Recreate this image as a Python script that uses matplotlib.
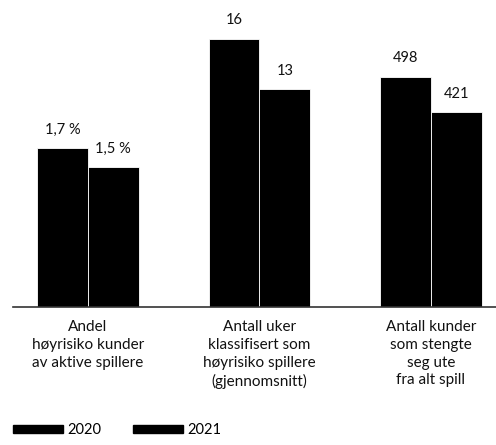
import numpy as np
import matplotlib.pyplot as plt
from matplotlib.patches import Patch

plt.rcParams['font.family'] = ['Lato', 'DejaVu Sans']

categories = ['Andel\nhøyrisiko kunder\nav aktive spillere',
              'Antall uker\nklassifisert som\nhøyrisiko spillere\n(gjennomsnitt)',
              'Antall kunder\nsom stengte\nseg ute\nfra alt spill']
vals_2020 = [1.7, 16, 498]
vals_2021 = [1.5, 13, 421]
labels_2020 = ['1,7 %', '16', '498']
labels_2021 = ['1,5 %', '13', '421']
# each group drawn on its own scale (relative height of the tallest bar)
group_scale = [0.59, 1.0, 0.858]

v20 = np.array(vals_2020, dtype=float)
v21 = np.array(vals_2021, dtype=float)
gmax = np.maximum(v20, v21)
h20 = v20 / gmax * np.array(group_scale)
h21 = v21 / gmax * np.array(group_scale)

fig = plt.figure(figsize=(4.96, 4.45), dpi=100)
ax = fig.add_axes([13/496, 138.5/445, 1 - 13/496, 268/445])

x = np.arange(len(categories))
w = 0.295
b1 = ax.bar(x - w/2, h20, w, color='black', edgecolor='white', linewidth=0.6, label='2020')
b2 = ax.bar(x + w/2, h21, w, color='black', edgecolor='white', linewidth=0.6, label='2021')

for bars, labs in ((b1, labels_2020), (b2, labels_2021)):
    for r, lab in zip(bars, labs):
        ax.annotate(lab, (r.get_x() + r.get_width()/2, r.get_height()),
                    xytext=(0, 8), textcoords='offset points',
                    ha='center', va='bottom', fontsize=10.5, color='#111111')

ax.set_xlim(-0.437, 2.379)
ax.set_ylim(0, 1)
ax.set_xticks(x)
ax.set_xticklabels(categories, fontsize=11, linespacing=1.33, va='top', color='#111111')
ax.tick_params(axis='x', length=0, pad=10)
ax.set_yticks([])
for s in ['top', 'right', 'left']:
    ax.spines[s].set_visible(False)
ax.spines['bottom'].set_color('#333333')
ax.spines['bottom'].set_linewidth(1.2)

handles = [Patch(color='black', label='2020'), Patch(color='black', label='2021')]
fig.legend(handles=handles, loc='lower left', bbox_to_anchor=(0.0, -0.012), ncol=2,
           frameon=False, fontsize=10.5, handlelength=3.4, handleheight=0.5,
           handletextpad=0.3, columnspacing=2.2)

fig.savefig('out.png', dpi=100)
